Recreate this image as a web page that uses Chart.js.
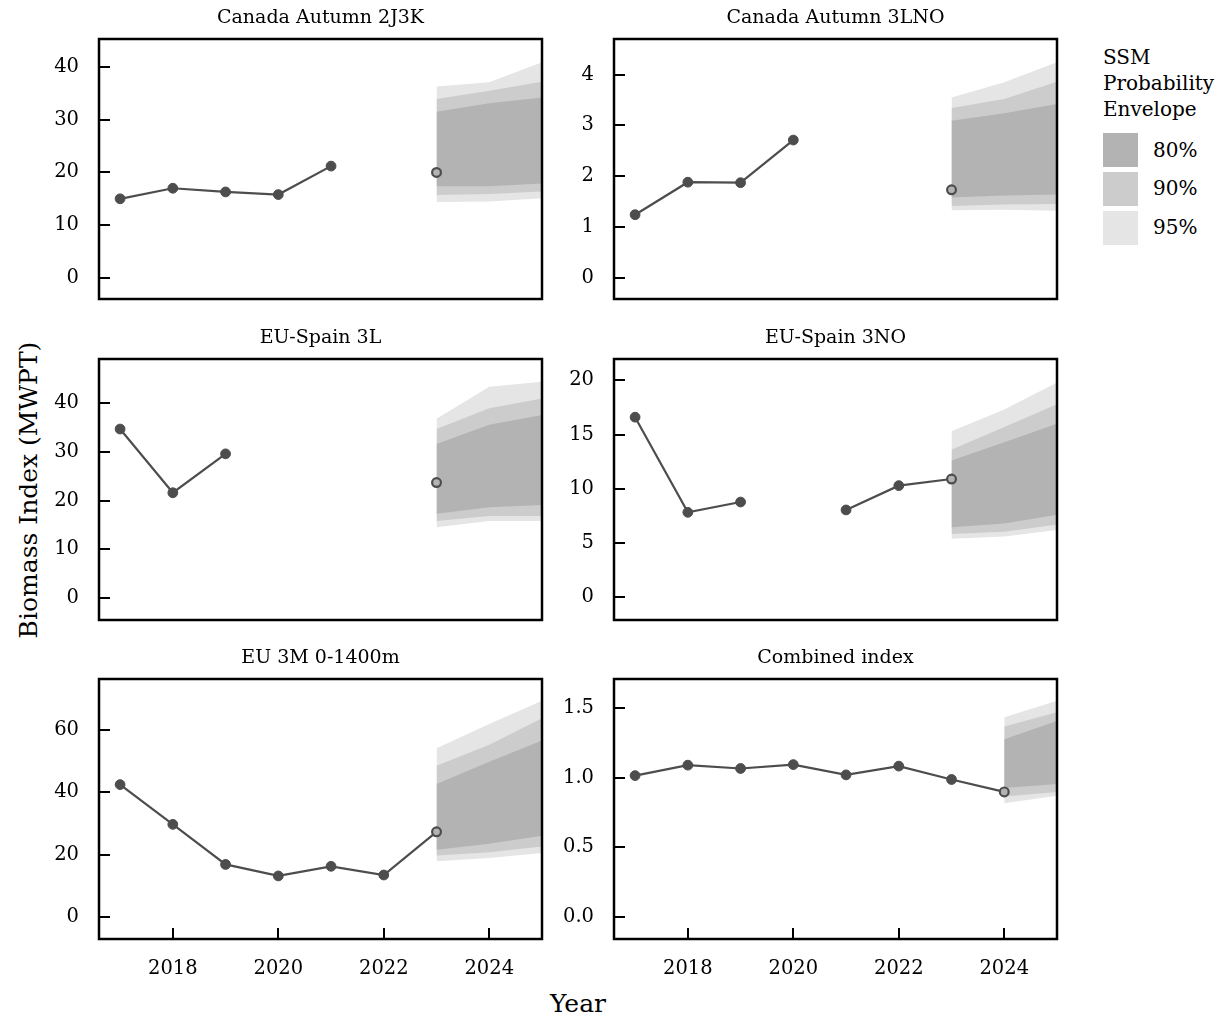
<!DOCTYPE html>
<html>
<head>
<meta charset="utf-8">
<title>SSM survey index fits</title>
<script src="https://cdn.jsdelivr.net/npm/chart.js@4/dist/chart.umd.min.js"></script>
<style>
  html, body { margin: 0; padding: 0; background: #ffffff; }
  body { width: 1225px; height: 1021px; position: relative; overflow: hidden; font-family: "DejaVu Serif", serif; color: #000; }
  .panel { position: absolute; }
  .panel canvas { display: block; }
  #ytitle { position: absolute; left: 28px; top: 490px; transform: translate(-50%, -50%) rotate(-90deg); font-size: 25px; white-space: nowrap; }
  #xtitle { position: absolute; left: 578px; top: 1003px; transform: translate(-50%, -50%); font-size: 25px; white-space: nowrap; }
  #legtitle { position: absolute; left: 1103px; top: 44px; font-size: 20px; line-height: 26px; }
  .swatch { position: absolute; left: 1103px; width: 35px; height: 34px; }
  .swlab { position: absolute; left: 1153px; font-size: 20px; line-height: 24px; }
</style>
</head>
<body>
<div id="ytitle">Biomass Index (MWPT)</div>
<div id="xtitle">Year</div>
<div id="legtitle">SSM<br>Probability<br>Envelope</div>
<div class="swatch" style="top:133px;background:#b3b3b3"></div>
<div class="swatch" style="top:172px;background:#cccccc"></div>
<div class="swatch" style="top:211px;background:#e5e5e5"></div>
<div class="swlab" style="top:138px">80%</div>
<div class="swlab" style="top:176px">90%</div>
<div class="swlab" style="top:215px">95%</div>

<script>
// ---- survey indices (last value of each series is the SSM estimate, drawn hollow) ----
const panelTitles = ['Canada Autumn 2J3K', 'Canada Autumn 3LNO', 'EU-Spain 3L', 'EU-Spain 3NO', 'EU 3M 0-1400m', 'Combined index'];
const surveyYears = [2017, 2018, 2019, 2020, 2021, 2022, 2023, 2024];

const canada2J3K = [15.0, 17.0, 16.3, 15.8, 21.2, null, 20.0, null];
const canada3LNO = [1.24, 1.88, 1.87, 2.71, null, null, 1.73, null];
const spain3L    = [34.7, 21.6, 29.6, null, null, null, 23.7, null];
const spain3NO   = [16.6, 7.83, 8.78, null, 8.05, 10.29, 10.9, null];
const eu3M       = [42.5, 29.7, 16.8, 13.1, 16.2, 13.4, 27.3, null];
const combined   = [1.014, 1.089, 1.065, 1.093, 1.019, 1.082, 0.986, 0.897];

// ---- projection envelopes ----
const projYears = [2023, 2024, 2025];
const combinedProjYears = [2024, 2025];

const hi95_2J3K = [36.3, 37.1, 40.9];
const hi90_2J3K = [33.9, 35.5, 37.2];
const hi80_2J3K = [31.5, 33.1, 34.2];
const lo80_2J3K = [17.4, 17.4, 17.9];
const lo90_2J3K = [15.7, 15.9, 16.4];
const lo95_2J3K = [14.4, 14.5, 15.1];

const hi95_3LNO = [3.55, 3.85, 4.24];
const hi90_3LNO = [3.34, 3.52, 3.86];
const hi80_3LNO = [3.09, 3.24, 3.42];
const lo80_3LNO = [1.58, 1.62, 1.64];
const lo90_3LNO = [1.41, 1.44, 1.45];
const lo95_3LNO = [1.33, 1.34, 1.32];

const hi95_3L = [36.8, 43.4, 44.4];
const hi90_3L = [34.7, 39.0, 41.0];
const hi80_3L = [31.6, 35.6, 37.6];
const lo80_3L = [17.3, 18.6, 19.1];
const lo90_3L = [15.8, 16.8, 16.8];
const lo95_3L = [14.5, 15.8, 15.8];

const hi95_3NO = [15.3, 17.3, 19.8];
const hi90_3NO = [13.6, 15.7, 17.8];
const hi80_3NO = [12.6, 14.3, 16.0];
const lo80_3NO = [6.45, 6.8, 7.6];
const lo90_3NO = [5.83, 6.05, 6.7];
const lo95_3NO = [5.4, 5.6, 6.2];

const hi95_3M = [54.2, 62.0, 69.5];
const hi90_3M = [48.6, 55.3, 63.9];
const hi80_3M = [42.7, 49.9, 56.7];
const lo80_3M = [21.5, 23.5, 26.0];
const lo90_3M = [19.7, 20.7, 22.6];
const lo95_3M = [17.8, 18.9, 20.5];

const hi95_comb = [1.434, 1.551];
const hi90_comb = [1.366, 1.469];
const hi80_comb = [1.276, 1.407];
const lo80_comb = [0.924, 0.953];
const lo90_comb = [0.864, 0.897];
const lo95_comb = [0.816, 0.870];

// ---- axes ----
const xLimits = [2016.6, 2025.0];
const xTicks = [2018, 2020, 2022, 2024];
const yLimits = [[-4.0, 45.3], [-0.42, 4.70], [-4.56, 49.1], [-2.09, 21.96], [-7.2, 76.5], [-0.16, 1.708]];
const yTicks = [[0, 10, 20, 30, 40], [0, 1, 2, 3, 4], [0, 10, 20, 30, 40], [0, 5, 10, 15, 20], [0, 20, 40, 60], [0, 0.5, 1.0, 1.5]];
const yDecimals = [0, 0, 0, 0, 0, 1];

const panelSeries = [canada2J3K, canada3LNO, spain3L, spain3NO, eu3M, combined];
const panelProjYears = [projYears, projYears, projYears, projYears, projYears, combinedProjYears];
const panelBands = [
  [hi80_2J3K, lo80_2J3K, hi90_2J3K, lo90_2J3K, hi95_2J3K, lo95_2J3K],
  [hi80_3LNO, lo80_3LNO, hi90_3LNO, lo90_3LNO, hi95_3LNO, lo95_3LNO],
  [hi80_3L, lo80_3L, hi90_3L, lo90_3L, hi95_3L, lo95_3L],
  [hi80_3NO, lo80_3NO, hi90_3NO, lo90_3NO, hi95_3NO, lo95_3NO],
  [hi80_3M, lo80_3M, hi90_3M, lo90_3M, hi95_3M, lo95_3M],
  [hi80_comb, lo80_comb, hi90_comb, lo90_comb, hi95_comb, lo95_comb]
];

const FONT = '"DejaVu Serif", serif';
const LINE = '#4d4d4d';
const BAND80 = '#b3b3b3', BAND90 = '#cccccc', BAND95 = '#e5e5e5';

// box frame with inward tick marks
const framePlugin = {
  id: 'frame',
  afterDraw(chart, args, opts) {
    const { ctx, chartArea: a } = chart;
    const tl = 11;
    ctx.save();
    ctx.strokeStyle = '#000';
    ctx.lineWidth = 2;
    const ys = chart.scales.y;
    ys.ticks.forEach(t => {
      const p = Math.round(ys.getPixelForValue(t.value));
      ctx.beginPath(); ctx.moveTo(a.left, p); ctx.lineTo(a.left + tl, p); ctx.stroke();
    });
    if (opts.xTickMarks) {
      const xs = chart.scales.x;
      xs.ticks.forEach(t => {
        const p = Math.round(xs.getPixelForValue(t.value));
        ctx.beginPath(); ctx.moveTo(p, a.bottom); ctx.lineTo(p, a.bottom - tl); ctx.stroke();
      });
    }
    ctx.lineWidth = 2.5;
    ctx.strokeRect(a.left, a.top, a.right - a.left, a.bottom - a.top);
    ctx.restore();
  }
};

function bandPair(years, hi, lo, color) {
  return [
    { data: years.map((x, k) => ({ x, y: hi[k] })), fill: '+1', backgroundColor: color,
      borderColor: 'rgba(0,0,0,0)', borderWidth: 0, pointRadius: 0, tension: 0 },
    { data: years.map((x, k) => ({ x, y: lo[k] })), fill: false,
      borderColor: 'rgba(0,0,0,0)', borderWidth: 0, pointRadius: 0, tension: 0 }
  ];
}

function makePanel(i) {
  const col = i % 2, row = Math.floor(i / 2);
  const left = col === 0 ? 0 : 560;
  const top = row * 320;
  const width = col === 0 ? 560 : 520;
  const axisWidth = col === 0 ? 99 : 54;
  const rightPad = col === 0 ? 18 : 23;
  const isBottom = row === 2;
  const height = isBottom ? 340 : 320;
  const bottomPad = isBottom ? 0 : (row === 0 ? 21 : 20);

  const wrap = document.createElement('div');
  wrap.className = 'panel';
  wrap.style.left = left + 'px';
  wrap.style.top = top + 'px';
  const cv = document.createElement('canvas');
  cv.width = width; cv.height = height;
  cv.style.width = width + 'px'; cv.style.height = height + 'px';
  wrap.appendChild(cv);
  document.body.appendChild(wrap);

  const series = panelSeries[i];
  let last = -1;
  series.forEach((v, k) => { if (v !== null) last = k; });
  const b = panelBands[i];
  const years = panelProjYears[i];

  const datasets = [
    {
      data: surveyYears.map((x, k) => ({ x, y: series[k] })),
      borderColor: LINE, borderWidth: 2.2, spanGaps: false, tension: 0, fill: false,
      pointRadius: c => c.dataIndex === last ? 4.4 : 4.9,
      pointBackgroundColor: c => c.dataIndex === last ? '#b3b3b3' : LINE,
      pointBorderColor: LINE,
      pointBorderWidth: c => c.dataIndex === last ? 2.2 : 1
    },
    ...bandPair(years, b[0], b[1], BAND80),
    ...bandPair(years, b[2], b[3], BAND90),
    ...bandPair(years, b[4], b[5], BAND95)
  ];

  const xScale = {
    type: 'linear', min: xLimits[0], max: xLimits[1],
    display: isBottom,
    afterBuildTicks: s => { s.ticks = xTicks.map(v => ({ value: v })); },
    grid: { display: false, drawTicks: false },
    border: { display: false },
    ticks: {
      autoSkip: false, maxRotation: 0, padding: 18, color: '#000',
      font: { family: FONT, size: 19.5 },
      callback: v => String(v)
    }
  };
  if (isBottom) xScale.afterFit = s => { s.height = 41; s.paddingLeft = 0; s.paddingRight = 0; };

  new Chart(cv, {
    type: 'line',
    data: { datasets },
    plugins: [framePlugin],
    options: {
      responsive: false,
      animation: false,
      devicePixelRatio: 1,
      layout: { padding: { left: 0, right: rightPad, top: 0, bottom: bottomPad } },
      plugins: {
        legend: { display: false },
        tooltip: { enabled: false },
        filler: { drawTime: 'beforeDatasetDraw', propagate: false },
        title: {
          display: true, text: panelTitles[i], fullSize: false,
          color: '#000', font: { family: FONT, size: 19, weight: 'normal', lineHeight: 1.2 },
          padding: { top: 6.5, bottom: 9.7 }
        },
        frame: { xTickMarks: isBottom }
      },
      scales: {
        x: xScale,
        y: {
          type: 'linear', min: yLimits[i][0], max: yLimits[i][1],
          afterBuildTicks: s => { s.ticks = yTicks[i].map(v => ({ value: v })); },
          afterFit: s => { s.width = axisWidth; s.paddingTop = 0; s.paddingBottom = 0; },
          grid: { display: false, drawTicks: false },
          border: { display: false },
          ticks: {
            padding: 20, color: '#000',
            font: { family: FONT, size: 19.5 },
            callback: v => Number(v).toFixed(yDecimals[i])
          }
        }
      }
    }
  });
}

for (let i = 0; i < 6; i++) makePanel(i);
</script>
</body>
</html>
